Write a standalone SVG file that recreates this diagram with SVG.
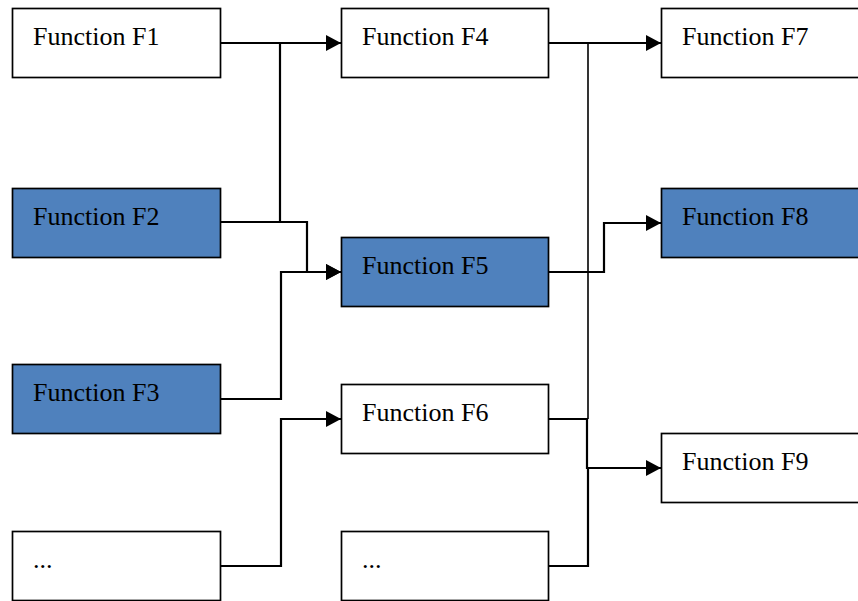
<svg xmlns="http://www.w3.org/2000/svg" width="858" height="601" viewBox="0 0 858 601">
  <defs>
    <marker id="arrow" markerUnits="userSpaceOnUse" markerWidth="17" markerHeight="18" refX="15" refY="8" orient="auto">
      <path d="M0,0 L15,8 L0,16 z" fill="#000"/>
    </marker>
    <style>
      .box { fill: #ffffff; stroke: #000000; stroke-width: 1.7; }
      .box.hl { fill: #4f81bd; }
      .label { font-family: "Liberation Serif", "Times New Roman", serif; font-size: 26px; fill: #000000; }
      .wire { fill: none; stroke: #000000; stroke-width: 2.2; }
      .wire.thin { stroke-width: 1.6; }
      .arrowed { marker-end: url(#arrow); }
    </style>
  </defs>
  <rect width="858" height="601" fill="#ffffff"/>

  <!-- connectors -->
  <g id="connectors">
    <!-- into F4 -->
    <path class="wire arrowed" d="M221,43 H341"/>
    <path class="wire" d="M280,222 V43"/>
    <!-- into F5 -->
    <path class="wire arrowed" d="M221,222 H307 V272 H341"/>
    <path class="wire arrowed" d="M221,399 H281 V272 H341"/>
    <!-- into F6 -->
    <path class="wire arrowed" d="M221,566 H281 V419 H341"/>
    <!-- into F7 -->
    <path class="wire arrowed" d="M549,43 H661"/>
    <path class="wire thin" d="M588,43 V419"/>
    <!-- into F8 -->
    <path class="wire arrowed" d="M549,272 H604 V223 H661"/>
    <!-- into F9 -->
    <path class="wire arrowed" d="M549,419 H587 V468 H661"/>
    <path class="wire" d="M549,566 H588 V468"/>
  </g>

  <!-- left column -->
  <g id="f1">
    <rect class="box" x="12.5" y="8.5" width="208" height="69"/>
    <text class="label" x="33" y="45">Function F1</text>
  </g>
  <g id="f2">
    <rect class="box hl" x="12.5" y="188.5" width="208" height="69"/>
    <text class="label" x="33" y="225">Function F2</text>
  </g>
  <g id="f3">
    <rect class="box hl" x="12.5" y="364.5" width="208" height="69"/>
    <text class="label" x="33" y="401">Function F3</text>
  </g>
  <g id="more-left">
    <rect class="box" x="12.5" y="531.5" width="208" height="69"/>
    <text class="label" x="33" y="568">...</text>
  </g>

  <!-- middle column -->
  <g id="f4">
    <rect class="box" x="341.5" y="8.5" width="207" height="69"/>
    <text class="label" x="362" y="45">Function F4</text>
  </g>
  <g id="f5">
    <rect class="box hl" x="341.5" y="237.5" width="207" height="69"/>
    <text class="label" x="362" y="274">Function F5</text>
  </g>
  <g id="f6">
    <rect class="box" x="341.5" y="384.5" width="207" height="69"/>
    <text class="label" x="362" y="421">Function F6</text>
  </g>
  <g id="more-mid">
    <rect class="box" x="341.5" y="531.5" width="207" height="69"/>
    <text class="label" x="362" y="568">...</text>
  </g>

  <!-- right column -->
  <g id="f7">
    <rect class="box" x="661.5" y="8.5" width="208" height="69"/>
    <text class="label" x="682" y="45">Function F7</text>
  </g>
  <g id="f8">
    <rect class="box hl" x="661.5" y="188.5" width="208" height="69"/>
    <text class="label" x="682" y="225">Function F8</text>
  </g>
  <g id="f9">
    <rect class="box" x="661.5" y="433.5" width="208" height="69"/>
    <text class="label" x="682" y="470">Function F9</text>
  </g>
</svg>
